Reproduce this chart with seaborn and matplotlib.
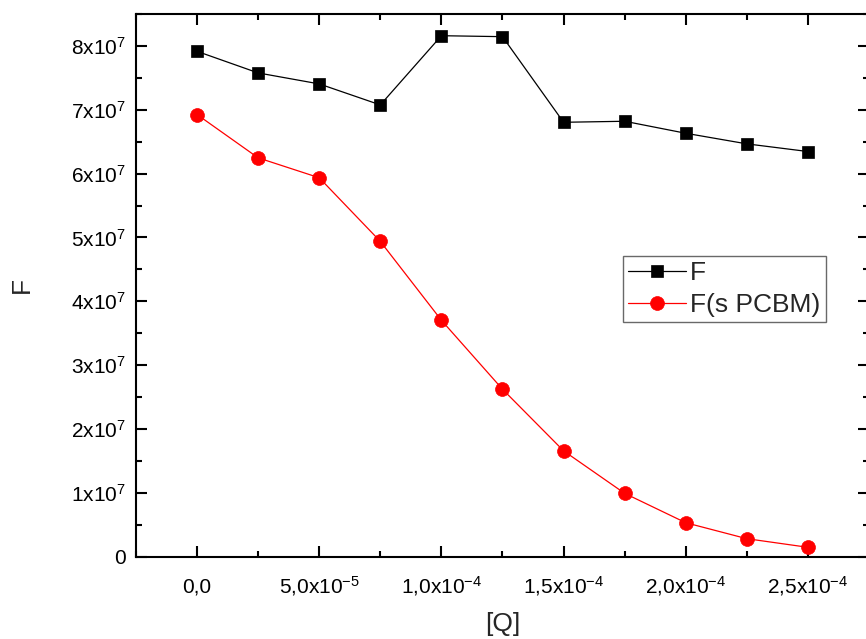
import matplotlib
matplotlib.use("Agg")
import matplotlib.pyplot as plt
import seaborn as sns
import numpy as np
from matplotlib.ticker import FixedLocator, MultipleLocator

# Data
q = [0.0, 2.5e-5, 5.0e-5, 7.5e-5, 1.0e-4, 1.25e-4, 1.5e-4, 1.75e-4, 2.0e-4, 2.25e-4, 2.5e-4]
f_plain = [7.915e7, 7.577e7, 7.405e7, 7.076e7, 8.160e7, 8.145e7, 6.804e7, 6.820e7, 6.632e7, 6.466e7, 6.346e7]
f_pcbm = [6.925e7, 6.247e7, 5.935e7, 4.938e7, 3.703e7, 2.623e7, 1.658e7, 0.992e7, 0.532e7, 0.282e7, 0.147e7]
series_labels = ["F", "F(s PCBM)"]
x_label = "[Q]"
y_label = "F"
x_ticks = [0.0, 5.0e-5, 1.0e-4, 1.5e-4, 2.0e-4, 2.5e-4]
x_tick_labels = ["0,0", "5,0x10$^{-5}$", "1,0x10$^{-4}$", "1,5x10$^{-4}$", "2,0x10$^{-4}$", "2,5x10$^{-4}$"]
y_ticks = [0, 1e7, 2e7, 3e7, 4e7, 5e7, 6e7, 7e7, 8e7]
y_tick_labels = ["0"] + [f"{i}x10$^{{7}}$" for i in range(1, 9)]

sns.set_style("ticks")
plt.rcParams["font.family"] = ["Liberation Sans", "DejaVu Sans"]
plt.rcParams["mathtext.fontset"] = "custom"
plt.rcParams["mathtext.rm"] = "Liberation Sans"
plt.rcParams["mathtext.it"] = "Liberation Sans"
plt.rcParams["mathtext.bf"] = "Liberation Sans"

fig = plt.figure(figsize=(8.66, 6.39), dpi=100)
ax = fig.add_axes([136 / 866, 82.3 / 639, 733 / 866, 542.7 / 639])

sns.lineplot(x=q, y=f_plain, ax=ax, color="black", marker="s", markersize=8.6,
             markeredgecolor="black", markeredgewidth=0.5, linewidth=0.9,
             label=series_labels[0], legend=False)
sns.lineplot(x=q, y=f_pcbm, ax=ax, color="#ff0000", marker="o", markersize=10,
             markeredgecolor="#ff0000", markeredgewidth=0.5, linewidth=0.9,
             label=series_labels[1], legend=False)

ax.set_xlim(-2.5e-5, 2.75e-4)
ax.set_ylim(0, 8.5e7)

ax.xaxis.set_major_locator(FixedLocator(x_ticks))
ax.set_xticklabels(x_tick_labels)
ax.xaxis.set_minor_locator(MultipleLocator(2.5e-5))
ax.yaxis.set_major_locator(FixedLocator(y_ticks))
ax.set_yticklabels(y_tick_labels)
ax.yaxis.set_minor_locator(MultipleLocator(5e6))

ax.tick_params(which="both", direction="in", top=True, right=True, width=1.5, colors="black")
ax.tick_params(which="major", length=8, labelsize=15)
ax.tick_params(axis="x", which="major", pad=26)
ax.tick_params(axis="y", which="major", pad=7)
ax.tick_params(which="minor", length=4.5)
for lbl in ax.get_xticklabels():
    lbl.set_verticalalignment("baseline")
for s in ax.spines.values():
    s.set_linewidth(1.5)
    s.set_color("black")

ax.set_xlabel(x_label, fontsize=19)
ax.xaxis.set_label_coords(0.5, (556.7 - 612) / 542.7)
ax.xaxis.label.set_verticalalignment("top")
ax.set_ylabel(y_label, fontsize=19)
ax.yaxis.set_label_coords(-0.14, 0.5)

leg = ax.legend(loc="upper left", bbox_to_anchor=((623 - 136) / 733, (556.7 - 256) / 542.7),
                borderaxespad=0, fontsize=19, frameon=True, fancybox=False,
                handlelength=2.2, handletextpad=0.15, labelspacing=0.3, borderpad=0.2)
leg.get_frame().set_edgecolor("#444444")
leg.get_frame().set_linewidth(1.0)

fig.savefig("out.png", dpi=100)
